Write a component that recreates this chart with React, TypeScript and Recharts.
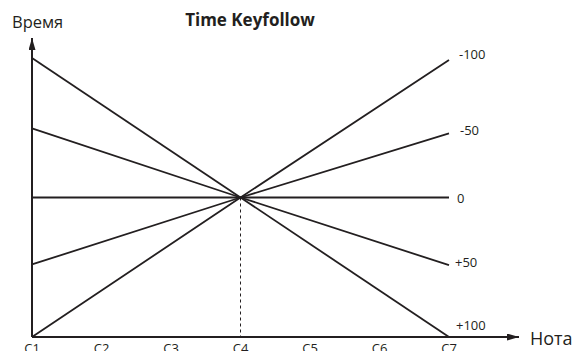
import { LineChart, Line, XAxis, YAxis, ReferenceLine } from 'recharts';

// note axis and curve values at C1 / C4 / C7 (straight segments in between)
const notes = ['C1', 'C2', 'C3', 'C4', 'C5', 'C6', 'C7'];
const minus100 = [-100, null, null, 0, null, null, 98.5];
const minus50 = [-48, null, null, 0, null, null, 46];
const zero = [0, null, null, 0, null, null, 0];
const plus50 = [49.5, null, null, 0, null, null, -48.5];
const plus100 = [100, null, null, 0, null, null, -100];

const seriesNames = ['-100', '-50', '0', '+50', '+100'];
const seriesKeys = ['m100', 'm50', 'z', 'p50', 'p100'];
// label offsets from line end
const labelOffsets: Record<string, [number, number]> = {
  m100: [10, -6],
  m50: [11, -3],
  z: [8, 0],
  p50: [6, -3],
  p100: [7, -12],
};

const data = notes.map((n, i) => ({
  note: n,
  m100: minus100[i],
  m50: minus50[i],
  z: zero[i],
  p50: plus50[i],
  p100: plus100[i],
}));

const INK = '#231f20';
const FONT = '"Open Sans", "Noto Sans", sans-serif';

const NoteTick = (props: any) => {
  const { x, y, payload } = props;
  return (
    <text x={x} y={y + 16} textAnchor="middle" fontSize={13} fill={INK} fontFamily={FONT}>
      {payload.value}
    </text>
  );
};

const endLabel = (key: string, name: string) => (props: any) => {
  const { x, y, index } = props;
  if (index !== notes.length - 1) return null;
  const [dx, dy] = labelOffsets[key];
  return (
    <text
      key={key}
      x={x + dx}
      y={y + dy}
      dominantBaseline="central"
      fontSize={13}
      fill={INK}
      fontFamily={FONT}
    >
      {name}
    </text>
  );
};

export default function App() {
  return (
    <div style={{ width: 577, height: 351, background: '#fff' }}>
      <style>{`body{margin:0}`}</style>
      <LineChart
        width={577}
        height={351}
        data={data}
        margin={{ top: 38, right: 58, left: 31, bottom: 0 }}
      >
        <defs>
          <marker
            id="arrow"
            markerUnits="userSpaceOnUse"
            markerWidth={13}
            markerHeight={8}
            refX={12}
            refY={3.5}
            orient="auto-start-reverse"
          >
            <path d="M0,0 L12,3.5 L0,7 z" fill={INK} />
          </marker>
        </defs>
        <XAxis
          dataKey="note"
          scale="point"
          padding={{ left: 0, right: 70 }}
          height={14}
          tickSize={0}
          tickMargin={0}
          tickLine={false}
          axisLine={{ stroke: INK, strokeWidth: 2, markerEnd: 'url(#arrow)' }}
          tick={<NoteTick />}
          interval={0}
        />
        <YAxis
          type="number"
          domain={[-100, 100]}
          padding={{ top: 20, bottom: 0 }}
          width={1}
          tick={false}
          tickLine={false}
          axisLine={{ stroke: INK, strokeWidth: 2, markerStart: 'url(#arrow)' }}
        />
        <ReferenceLine
          segment={[
            { x: 'C4', y: 0 },
            { x: 'C4', y: -100 },
          ]}
          stroke={INK}
          strokeWidth={1}
          strokeDasharray="3 3"
        />
        {seriesKeys.map((k, i) => (
          <Line
            key={k}
            dataKey={k}
            type="linear"
            stroke={INK}
            strokeWidth={1.8}
            dot={false}
            connectNulls
            isAnimationActive={false}
            label={endLabel(k, seriesNames[i])}
          />
        ))}
        <text x={250} y={26} textAnchor="middle" fontSize={17} fontWeight="bold" fill={INK} fontFamily={FONT}>
          Time Keyfollow
        </text>
        <text x={12} y={28} fontSize={16.5} fill={INK} fontFamily={FONT}>
          Время
        </text>
        <text x={530} y={345} fontSize={18} fill={INK} fontFamily={FONT}>
          Нота
        </text>
      </LineChart>
    </div>
  );
}
